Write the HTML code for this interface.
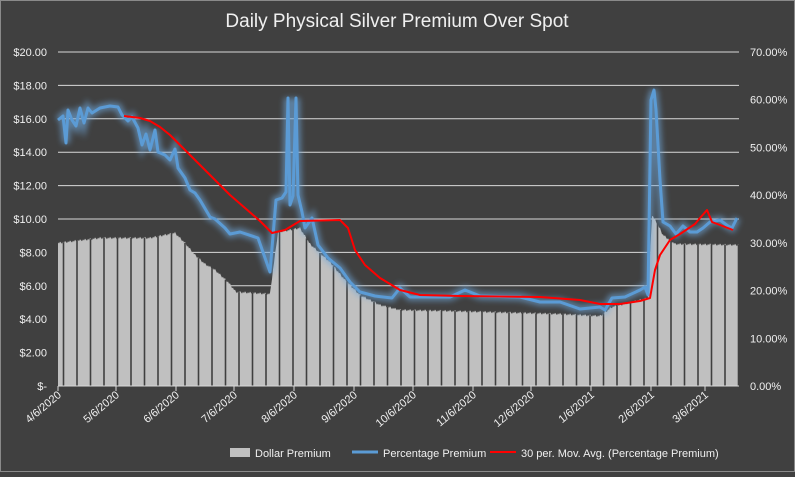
<!DOCTYPE html><html><head><style>body{margin:0;background:#404040}svg text{font-family:"Liberation Sans",sans-serif;fill:#f0f0f0}</style></head><body>
<svg id="s" width="795" height="472" xmlns="http://www.w3.org/2000/svg">
<defs><filter id="g" x="-10%" y="-10%" width="120%" height="120%"><feGaussianBlur stdDeviation="3"/></filter></defs>
<rect x="0.5" y="0.5" width="794" height="471" fill="#404040" stroke="#8a8a8a"/>
<text x="397" y="27" font-size="19" text-anchor="middle">Daily Physical Silver Premium Over Spot</text>
<g id="grid"></g><g id="bars"></g><g id="lines"></g><g id="lab" font-size="11"></g>
<g font-size="11">
<rect x="230" y="448" width="20" height="9" fill="#c0c0c0"/><text x="255" y="457">Dollar Premium</text>
<line x1="352" y1="452" x2="378" y2="452" stroke="#5b9bd5" stroke-width="3"/><text x="383" y="457">Percentage Premium</text>
<line x1="490" y1="452" x2="516" y2="452" stroke="#ff0000" stroke-width="2"/><text x="521" y="457">30 per. Mov. Avg. (Percentage Premium)</text>
</g>
</svg>
<script>
const NS="http://www.w3.org/2000/svg";
function el(p,t,a,txt){const e=document.createElementNS(NS,t);for(const k in a)e.setAttribute(k,a[k]);if(txt)e.textContent=txt;document.getElementById(p).appendChild(e);return e;}
const L=58,R=739,T=52,B=386;
for(let i=0;i<=10;i++){const y=B-(B-T)*i/10;
 if(i>0)el('grid','line',{x1:L,x2:R,y1:y,y2:y,stroke:'#d9d9d9','stroke-width':1});
}
for(let i=0;i<=10;i++){const y=B-(B-T)*i/10;el('lab','text',{x:47,y:y+4,'text-anchor':'end'},i==0?'$-':'$'+(i*2).toFixed(2));}
for(let i=0;i<=7;i++){const y=B-(B-T)*i/7;el('lab','text',{x:750,y:y+4},(i*10).toFixed(2)+'%');}
const dates=['4/6/2020','5/6/2020','6/6/2020','7/6/2020','8/6/2020','9/6/2020','10/6/2020','11/6/2020','12/6/2020','1/6/2021','2/6/2021','3/6/2021'];
const xs=[58,116,176,234,294,354,413,473,531,591,651,705];
dates.forEach((d,i)=>{el('lab','line',{x1:xs[i],x2:xs[i],y1:B,y2:B+5,stroke:'#d9d9d9'});el('lab','text',{x:xs[i]+4,y:B+10,'text-anchor':'end',transform:`rotate(-40 ${xs[i]+4} ${B+10})`},d);});
function interp(pts,x){for(let i=1;i<pts.length;i++){if(x<=pts[i][0]){const a=pts[i-1],b=pts[i];return a[1]+(b[1]-a[1])*(x-a[0])/(b[0]-a[0]);}}return pts[pts.length-1][1];}
const bar=[[58,243],[100,238],[150,238],[175,233],[185,243],[195,255],[205,264],[215,270],[228,282],[236,292],[270,294],[273,270],[278,232],[290,230],[300,228],[310,244],[330,262],[345,280],[360,295],[380,305],[400,310],[450,311],[560,314],[600,316],[612,307],[640,300],[648,298],[652,215],[658,225],[663,235],[675,244],[739,245]];
let d=`M${L},${B}`;for(let x=L;x<=R;x++){let y=interp(bar,x)+((x*7)%5-2)*0.6;d+=`L${x},${y.toFixed(1)}`;}d+=`L${R},${B}Z`;
el('bars','path',{d:d,fill:'#c0c0c0'});
for(let x=L+5;x<R;x+=13.5)el('bars','rect',{x:x,y:T,width:2,height:B-T,fill:'#404040',opacity:0}) ;
for(let x=L+5.5;x<R;x+=13.5){const y=interp(bar,x);el('bars','line',{x1:x,x2:x,y1:y,y2:B,stroke:'#404040','stroke-width':1.6});}
const blue=[[58,120],[63,116],[66,143],[68,110],[72,120],[76,126],[80,108],[84,123],[88,108],[92,113],[100,108],[110,106],[118,107],[122,115],[128,121],[132,117],[138,128],[142,145],[146,134],[150,150],[155,130],[158,152],[165,155],[170,160],[175,149],[178,168],[185,178],[190,190],[195,193],[200,200],[210,217],[215,219],[225,228],[230,234],[240,232],[258,238],[264,255],[270,272],[273,236],[276,200],[282,198],[286,192],[288,98],[290,205],[293,196],[296,98],[298,195],[302,212],[305,228],[312,218],[318,245],[328,258],[340,268],[350,282],[360,292],[375,296],[392,298],[400,288],[410,297],[450,297],[465,290],[480,296],[520,297],[540,302],[560,302],[580,309],[600,307],[605,310],[612,298],[625,297],[640,290],[645,287],[648,295],[651,100],[654,90],[656,110],[660,180],[663,222],[670,226],[676,234],[683,226],[690,232],[697,232],[703,228],[710,222],[720,220],[728,226],[732,228],[737,218]];
const red=[[124,116],[140,118],[150,121],[160,127],[170,135],[180,145],[190,155],[200,165],[215,180],[230,195],[245,208],[260,221],[272,233],[285,230],[295,224],[300,221],[340,220],[348,228],[355,250],[365,265],[380,278],[400,290],[420,295],[460,296],[540,297],[580,300],[600,304],[620,304],[640,301],[650,298],[655,270],[660,255],[670,240],[680,234],[695,224],[700,218],[707,210],[712,222],[720,225],[733,230]];
const pl=p=>p.map(q=>q.join(',')).join(' ');
el('lines','polyline',{points:pl(blue),fill:'none',stroke:'#6fa8dc','stroke-width':8,opacity:0.6,filter:'url(#g)'});
el('lines','polyline',{points:pl(blue),fill:'none',stroke:'#5b9bd5','stroke-width':3,'stroke-linejoin':'round'});
el('lines','polyline',{points:pl(red),fill:'none',stroke:'#ff0000','stroke-width':2,'stroke-linejoin':'round'});
el('lines','line',{x1:L,x2:R,y1:B,y2:B,stroke:'#d9d9d9'});
</script></body></html>
